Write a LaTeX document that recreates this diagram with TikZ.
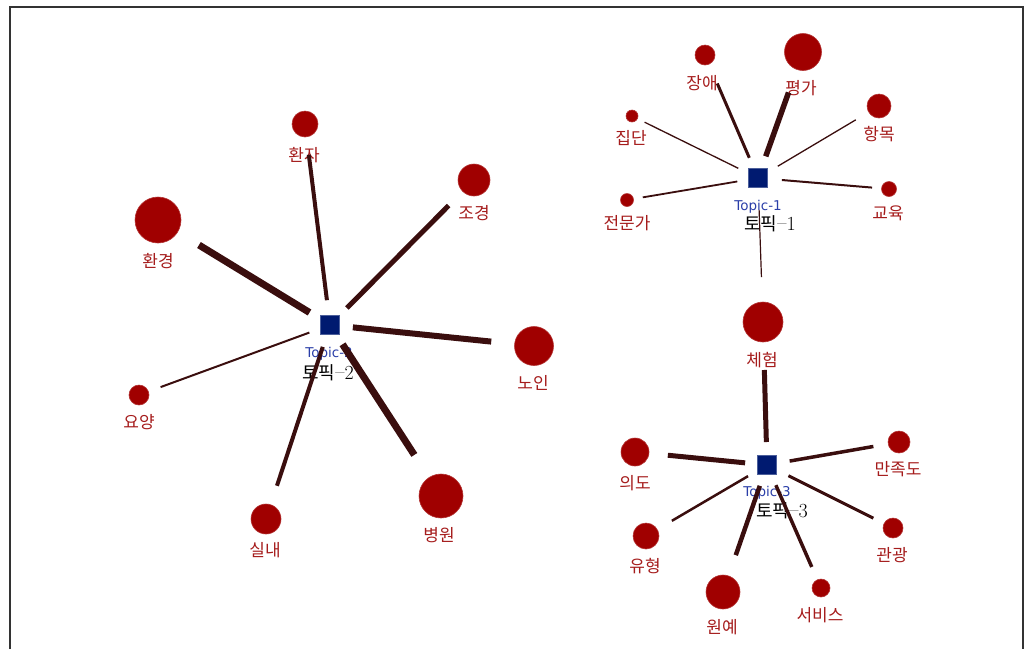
\documentclass[tikz,border=0pt]{standalone}
\usepackage{fontspec}
\newfontfamily\kr{Noto Sans CJK KR}
\newfontfamily\tsans{DejaVu Sans}
\definecolor{nodered}{HTML}{A00000}
\definecolor{labred}{HTML}{A51C1C}
\definecolor{edgec}{HTML}{3A0E0E}
\definecolor{navy}{HTML}{001A70}
\definecolor{topicblue}{HTML}{2A3EA8}
\tikzset{
  term/.style={circle, fill=nodered, draw=nodered!80!white, line width=0.6pt, inner sep=0pt, minimum size=#1},
  lab/.style={text=labred, font=\kr\fontsize{17}{17}\selectfont, inner sep=0pt},
  topic/.style={rectangle, fill=navy, draw=navy!70!white, line width=0.8pt, minimum size=19pt, inner sep=0pt},
  tlab/.style={text=topicblue, font=\tsans\fontsize{13.5}{14}\selectfont, inner sep=0pt},
  klab/.style={text=black, font=\fontsize{20}{21}\selectfont, inner sep=0pt},
  edge/.style={draw=edgec, line width=#1, line cap=butt},
  frame/.style={draw=black!80, line width=2pt}
}
\newcommand{\tpk}[1]{{\kr\fontsize{18}{20}\selectfont 토픽}\raisebox{1.5pt}{\textendash}#1}
\begin{document}
\begin{tikzpicture}[x=1pt,y=-1pt]
\useasboundingbox (0,0) rectangle (1030,649);
\draw[frame] (9.5,649) -- (9.5,6.5) -- (1022.5,6.5) -- (1022.5,649);

% topics
\node[topic] (t1) at (758,178) {};
\node[topic] (t2) at (330,325) {};
\node[topic] (t3) at (767,465) {};
\node[tlab] (t1a) at (758,207) {Topic-1};
\node[tlab] (t2a) at (329,354) {Topic-2};
\node[tlab] (t3a) at (767,493) {Topic-3};
\node[klab] (t1b) at (770,224) {\tpk{1}};
\node[klab] (t2b) at (328,373) {\tpk{2}};
\node[klab] (t3b) at (782,511) {\tpk{3}};

% topic 2 terms
\node[term=26pt] (hwanja) at (305,124) {};
\node[lab] at (304,155) {환자};
\node[term=32pt] (jogyeong) at (474,180) {};
\node[lab] at (474,213) {조경};
\node[term=46pt] (hwangyeong) at (158,220) {};
\node[lab] at (158,261) {환경};
\node[term=39pt] (noin) at (534,346) {};
\node[lab] at (533,383) {노인};
\node[term=20pt] (yoyang) at (139,395) {};
\node[lab] at (139,422) {요양};
\node[term=30pt] (silnae) at (266,519) {};
\node[lab] at (265,550) {실내};
\node[term=44pt] (byeongwon) at (441,496) {};
\node[lab] at (439,535) {병원};

% topic 1 terms
\node[term=20pt] (jangae) at (705,55) {};
\node[lab] at (702,83) {장애};
\node[term=37pt] (pyeongga) at (803,52) {};
\node[lab] at (801,88) {평가};
\node[term=24pt] (hangmok) at (879,106) {};
\node[lab] at (879,134) {항목};
\node[term=12pt] (jipdan) at (632,116) {};
\node[lab] at (631,138) {집단};
\node[term=13pt] (jeonmunga) at (627,200) {};
\node[lab] at (627,223) {전문가};
\node[term=15pt] (gyoyuk) at (889,189) {};
\node[lab] at (888,213) {교육};

% shared
\node[term=40pt] (cheheom) at (763,322) {};
\node[lab] at (762,360) {체험};

% topic 3 terms
\node[term=28pt] (uido) at (635,452) {};
\node[lab] at (635,483) {의도};
\node[term=26pt] (yuhyeong) at (646,536) {};
\node[lab] at (645,566) {유형};
\node[term=34pt] (wonye) at (723,592) {};
\node[lab] at (722,627) {원예};
\node[term=18pt] (service) at (821,588) {};
\node[lab] at (820,615) {서비스};
\node[term=20pt] (gwangwang) at (893,528) {};
\node[lab] at (892,555) {관광};
\node[term=22pt] (manjokdo) at (899,442) {};
\node[lab] at (898,469) {만족도};

% edges topic 2
\draw[edge=4pt, shorten <=25pt, shorten >=31pt] (t2.center) -- (hwanja.center);
\draw[edge=5pt, shorten <=24pt, shorten >=36pt] (t2.center) -- (jogyeong.center);
\draw[edge=7pt, shorten <=24pt, shorten >=48pt] (t2.center) -- (hwangyeong.center);
\draw[edge=6pt, shorten <=23pt, shorten >=43pt] (t2.center) -- (noin.center);
\draw[edge=2pt, shorten <=22pt, shorten >=23pt] (t2.center) -- (yoyang.center);
\draw[edge=4pt, shorten <=23pt, shorten >=35pt] (t2.center) -- (silnae.center);
\draw[edge=7pt, shorten <=23pt, shorten >=49pt] (t2.center) -- (byeongwon.center);

% edges topic 1
\draw[edge=3pt, shorten <=22pt, shorten >=31pt] (t1.center) -- (jangae.center);
\draw[edge=5.5pt, shorten <=23pt, shorten >=43pt] (t1.center) -- (pyeongga.center);
\draw[edge=1.3pt, shorten <=23pt, shorten >=27pt] (t1.center) -- (hangmok.center);
\draw[edge=1.3pt, shorten <=22pt, shorten >=14pt] (t1.center) -- (jipdan.center);
\draw[edge=1.8pt, shorten <=21pt, shorten >=16pt] (t1.center) -- (jeonmunga.center);
\draw[edge=2pt, shorten <=24pt, shorten >=17pt] (t1.center) -- (gyoyuk.center);
\draw[edge=1.2pt, shorten <=32pt, shorten >=45pt] (t1.center) -- (cheheom.center);

% edges topic 3
\draw[edge=5pt, shorten <=23pt, shorten >=48pt] (t3.center) -- (cheheom.center);
\draw[edge=5pt, shorten <=22pt, shorten >=33pt] (t3.center) -- (uido.center);
\draw[edge=3.5pt, shorten <=23pt, shorten >=26pt] (t3.center) -- (manjokdo.center);
\draw[edge=2.5pt, shorten <=22pt, shorten >=30pt] (t3.center) -- (yuhyeong.center);
\draw[edge=4.5pt, shorten <=22pt, shorten >=39pt] (t3.center) -- (wonye.center);
\draw[edge=3.5pt, shorten <=22pt, shorten >=23pt] (t3.center) -- (service.center);
\draw[edge=3pt, shorten <=24pt, shorten >=22pt] (t3.center) -- (gwangwang.center);
\end{tikzpicture}
\end{document}
